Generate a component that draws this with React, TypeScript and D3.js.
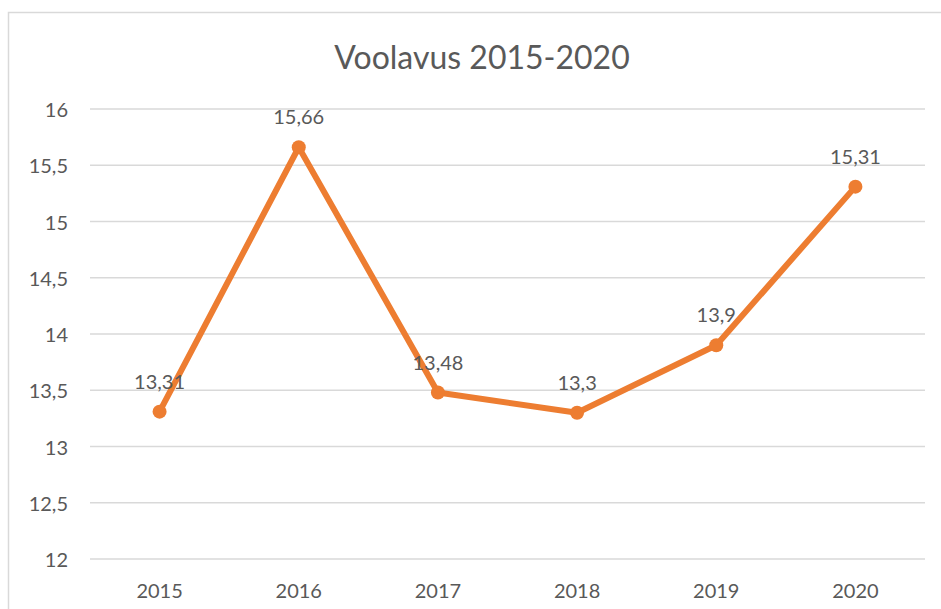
import { useRef, useEffect } from "react";
import * as d3 from "d3";

const years = ["2015", "2016", "2017", "2018", "2019", "2020"];
const flow = [13.31, 15.66, 13.48, 13.3, 13.9, 15.31];
const yTicks = [12, 12.5, 13, 13.5, 14, 14.5, 15, 15.5, 16];

const W = 941;
const H = 609;
const FONT = "Lato, 'Open Sans', sans-serif";
const ORANGE = "#ED7D31";
const TEXT = "#595959";

const fmt = (v: number) => String(v).replace(".", ",");

const App = () => {
  const ref = useRef<SVGSVGElement>(null);

  useEffect(() => {
    const svg = d3.select(ref.current);
    svg.selectAll("*").remove();

    const x = d3.scaleBand().domain(years).range([90, 925]);
    const y = d3.scaleLinear().domain([12, 16]).range([559, 109]);

    // chart frame
    svg
      .append("rect")
      .attr("x", 8.5)
      .attr("y", 12.5)
      .attr("width", W + 20)
      .attr("height", H + 20)
      .attr("fill", "#fff")
      .attr("stroke", "#d9d9d9")
      .attr("stroke-width", 1.5);

    // title
    svg
      .append("text")
      .attr("x", 482)
      .attr("y", 56)
      .attr("text-anchor", "middle")
      .attr("dominant-baseline", "central")
      .style("font-family", FONT)
      .style("font-size", "32px")
      .attr("fill", TEXT)
      .text("Voolavus 2015-2020");

    // gridlines
    svg
      .selectAll(".grid")
      .data(yTicks)
      .enter()
      .append("line")
      .attr("class", "grid")
      .attr("x1", 90)
      .attr("x2", 925)
      .attr("y1", (d) => y(d))
      .attr("y2", (d) => y(d))
      .attr("stroke", "#d9d9d9")
      .attr("stroke-width", 1.5);

    // y tick labels
    svg
      .selectAll(".ylab")
      .data(yTicks)
      .enter()
      .append("text")
      .attr("class", "ylab")
      .attr("x", 68)
      .attr("y", (d) => y(d))
      .attr("text-anchor", "end")
      .attr("dominant-baseline", "central")
      .style("font-family", FONT)
      .style("font-size", "20px")
      .attr("fill", TEXT)
      .text((d) => fmt(d));

    // x labels
    svg
      .selectAll(".xlab")
      .data(years)
      .enter()
      .append("text")
      .attr("class", "xlab")
      .attr("x", (d) => x(d)! + x.bandwidth() / 2)
      .attr("y", 590)
      .attr("text-anchor", "middle")
      .attr("dominant-baseline", "central")
      .style("font-family", FONT)
      .style("font-size", "20px")
      .attr("fill", TEXT)
      .text((d) => d);

    const pts = years.map((yr, i) => ({ yr, v: flow[i] }));
    const line = d3
      .line<{ yr: string; v: number }>()
      .x((d) => x(d.yr)! + x.bandwidth() / 2)
      .y((d) => y(d.v));

    svg
      .append("path")
      .datum(pts)
      .attr("d", line)
      .attr("fill", "none")
      .attr("stroke", ORANGE)
      .attr("stroke-width", 6)
      .attr("stroke-linejoin", "round")
      .attr("stroke-linecap", "round");

    svg
      .selectAll(".dot")
      .data(pts)
      .enter()
      .append("circle")
      .attr("class", "dot")
      .attr("cx", (d) => x(d.yr)! + x.bandwidth() / 2)
      .attr("cy", (d) => y(d.v))
      .attr("r", 7)
      .attr("fill", ORANGE);

    // data labels
    svg
      .selectAll(".dlab")
      .data(pts)
      .enter()
      .append("text")
      .attr("class", "dlab")
      .attr("x", (d) => x(d.yr)! + x.bandwidth() / 2)
      .attr("y", (d) => y(d.v) - 31)
      .attr("text-anchor", "middle")
      .attr("dominant-baseline", "central")
      .style("font-family", FONT)
      .style("font-size", "20px")
      .attr("fill", TEXT)
      .text((d) => fmt(d.v));
  }, []);

  return (
    <svg
      ref={ref}
      width={W}
      height={H}
      style={{ position: "absolute", left: 0, top: 0 }}
    ></svg>
  );
};

export default App;
